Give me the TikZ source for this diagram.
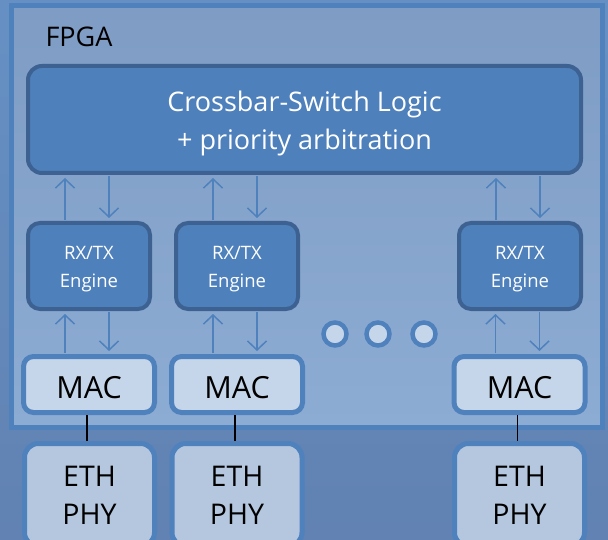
\documentclass[tikz,border=0pt]{standalone}
\usepackage{fontspec}
\setmainfont{Open Sans}
\usepackage{tikz}
\usetikzlibrary{
  arrows.meta,
  positioning,
  calc
}
\definecolor{fpBgTop}{HTML}{6690C4}
\definecolor{fpBgBot}{HTML}{6182B2}
\definecolor{fpChipTop}{HTML}{7E9CC4}
\definecolor{fpChipMid}{HTML}{8FB0D9}
\definecolor{fpChipBot}{HTML}{8DACD4}
\definecolor{fpEdge}{HTML}{4F81BD}
\definecolor{fpCore}{HTML}{4E80BC}
\definecolor{fpCoreEdge}{HTML}{3D6292}
\definecolor{fpMac}{HTML}{C6D6EA}
\definecolor{fpPhy}{HTML}{B4C7DF}
\tikzset{
  fpblock/.style={
    draw, inner sep=0pt, align=center
  },
  xbarbox/.style={fpblock, fill=fpCore, draw=fpCoreEdge, line width=4pt,
    rounded corners=14pt, text=white, font=\fontsize{27}{38}\selectfont,
    minimum width=553pt, minimum height=107pt},
  engine/.style={fpblock, fill=fpCore, draw=fpCoreEdge, line width=4pt,
    rounded corners=12pt, text=white, font=\fontsize{18.5}{28}\selectfont,
    minimum width=122pt, minimum height=86pt},
  mac/.style={fpblock, fill=fpMac, draw=fpEdge, line width=5pt,
    rounded corners=10pt, font=\fontsize{30.5}{34}\selectfont,
    text height=27pt, text depth=0pt,
    minimum width=131pt, minimum height=56pt},
  phy/.style={fpblock, fill=fpPhy, draw=fpEdge, line width=5pt,
    rounded corners=14pt, font=\fontsize{28.5}{38}\selectfont,
    minimum width=130pt, minimum height=103pt},
  moredot/.style={circle, fill=fpMac, draw=fpEdge, line width=4.5pt,
    minimum size=23pt, inner sep=0pt},
  flow/.style={-{Straight Barb[length=9pt, width=19pt]}, line width=1.5pt,
    draw=fpEdge, shorten >=3pt, shorten <=1pt},
  wire/.style={line width=1.5pt, black}
}

\begin{document}
\begin{tikzpicture}[x=1pt, y=-1pt]
  \clip (0,0) rectangle (608,540);
  \useasboundingbox (0,0) rectangle (608,540);

  % board and chip outline
  \shade[top color=fpBgTop, bottom color=fpBgBot] (0,0) rectangle (608,540);
  \shade[top color=fpChipTop, middle color=fpChipMid, bottom color=fpChipBot]
    (11,6) rectangle (602,427);
  \draw[fpEdge, line width=5pt] (11,6) rectangle (602,427);
  \node[anchor=base west, font=\fontsize{27}{30}\selectfont] (fpga) at (42,46.7) {FPGA};

  % switch fabric (struts push the first line down a little)
  \node[xbarbox] (xbar) at (304.5,119.5)
    {\rule{0pt}{28pt}Crossbar-Switch Logic\\+ priority arbitration};

  % per-port engines, MACs and PHYs
  \node[engine] (eng1) at (89,266) {\rule{0pt}{19pt}RX/TX\\Engine};
  \node[engine] (eng2) at (237,266) {\rule{0pt}{19pt}RX/TX\\Engine};
  \node[engine] (eng3) at (520,266) {\rule{0pt}{19pt}RX/TX\\Engine};

  \node[mac] (mac1) at (89,384.5) {MAC};
  \node[mac] (mac2) at (237,384.5) {MAC};
  \node[mac] (mac3) at (519.5,384.5) {MAC};

  \node[phy] (phy1) at (89.5,495) {ETH\\PHY};
  \node[phy] (phy2) at (237,495) {ETH\\PHY};
  \node[phy] (phy3) at (519.5,495) {ETH\\PHY};

  % further ports
  \node[moredot] (dot1) at (335,334) {};
  \node[moredot] (dot2) at (378,334) {};
  \node[moredot] (dot3) at (424,334) {};

  \foreach \n in {1,2,3} {
    \draw[flow] ([xshift=-24pt]eng\n.north) -- ([xshift=-24pt]eng\n.north |- xbar.south);
    \draw[flow] ([xshift=20pt]eng\n.north |- xbar.south) -- ([xshift=20pt]eng\n.north);
    \draw[flow] ([xshift=-24pt]mac\n.north) -- ([xshift=-24pt]mac\n.north |- eng\n.south);
    \draw[flow] ([xshift=20pt]mac\n.north |- eng\n.south) -- ([xshift=20pt]mac\n.north);
    \draw[wire] ([xshift=-2pt]mac\n.south) -- ([xshift=-2pt]mac\n.south |- phy\n.north);
  }
\end{tikzpicture}
\end{document}
